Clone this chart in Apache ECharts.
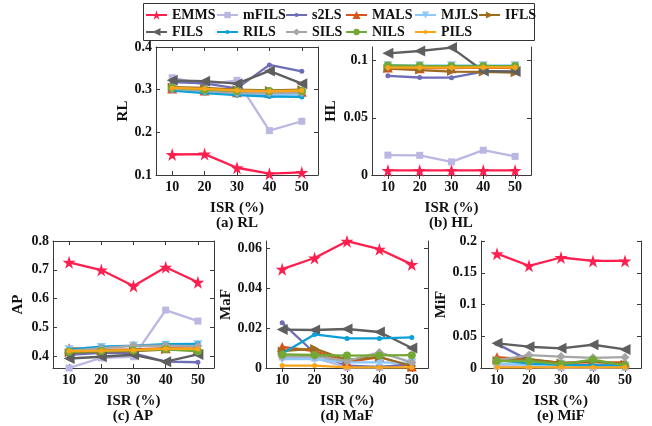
<!DOCTYPE html>
<html><head><meta charset="utf-8">
<script src="https://cdn.jsdelivr.net/npm/echarts@6/dist/echarts.min.js"></script>
<style>html,body{margin:0;padding:0;background:#fff}#c{width:652px;height:426px}</style>
</head><body><div id="c"></div>
<script>
// ---------- data ----------
const isr = ['10', '20', '30', '40', '50'];
const methods = ['EMMS','mFILS','s2LS','MALS','MJLS','IFLS','FILS','RILS','SILS','NILS','PILS'];
// rows follow the order of `methods`
const rlValues = [
  [0.148,0.149,0.117,0.103,0.106],
  [0.328,0.312,0.322,0.204,0.226],
  [0.318,0.315,0.303,0.358,0.343],
  [0.303,0.298,0.294,0.292,0.295],
  [0.300,0.294,0.290,0.288,0.289],
  [0.306,0.304,0.300,0.298,0.300],
  [0.322,0.320,0.314,0.344,0.314],
  [0.298,0.292,0.287,0.284,0.283],
  [0.302,0.297,0.292,0.292,0.293],
  [0.305,0.300,0.297,0.297,0.297],
  [0.304,0.302,0.298,0.296,0.298]
];
const hlValues = [
  [0.0040,0.0040,0.0040,0.0040,0.0040],
  [0.0174,0.0172,0.0115,0.0217,0.0163],
  [0.0868,0.0853,0.0852,0.0905,0.0905],
  [0.0940,0.0935,0.0935,0.0940,0.0935],
  [0.0955,0.0955,0.0955,0.0955,0.0955],
  [0.0932,0.0918,0.0905,0.0902,0.0895],
  [0.1065,0.1085,0.1115,0.0910,0.0905],
  [0.0957,0.0955,0.0955,0.0955,0.0955],
  [0.0950,0.0950,0.0950,0.0950,0.0950],
  [0.0958,0.0955,0.0953,0.0953,0.0953],
  [0.0940,0.0940,0.0940,0.0942,0.0942]
];
const apValues = [
  [0.726,0.699,0.644,0.709,0.657],
  [0.359,0.394,0.398,0.560,0.522],
  [0.405,0.412,0.410,0.381,0.379],
  [0.428,0.422,0.424,0.428,0.426],
  [0.422,0.430,0.435,0.438,0.440],
  [0.412,0.416,0.418,0.423,0.422],
  [0.392,0.398,0.405,0.381,0.406],
  [0.424,0.433,0.437,0.442,0.443],
  [0.418,0.428,0.437,0.437,0.435],
  [0.415,0.418,0.420,0.424,0.417],
  [0.418,0.419,0.421,0.426,0.425]
];
const mafValues = [
  [0.0494,0.0550,0.0634,0.0594,0.0518],
  [0.0055,0.0050,0.0003,0.0003,0.0020],
  [0.0226,0.0075,0.0012,0.0005,0.0018],
  [0.0105,0.0085,0.0030,0.0055,0.0008],
  [0.0045,0.0045,0.0028,0.0028,0.0025],
  [0.0085,0.0097,0.0040,0.0055,0.0010],
  [0.0192,0.0190,0.0195,0.0180,0.0100],
  [0.0072,0.0168,0.0148,0.0148,0.0153],
  [0.0058,0.0060,0.0035,0.0078,0.0028],
  [0.0068,0.0065,0.0062,0.0063,0.0064],
  [0.0012,0.0012,0.0003,0.0003,0.0003]
];
const mifValues = [
  [0.180,0.161,0.174,0.1686,0.1686],
  [0.003,0.002,0.0005,0.0005,0.001],
  [0.038,0.012,0.005,0.004,0.004],
  [0.017,0.013,0.008,0.009,0.009],
  [0.007,0.005,0.006,0.003,0.003],
  [0.012,0.014,0.008,0.010,0.006],
  [0.0388,0.0335,0.031,0.0366,0.0293],
  [0.013,0.007,0.005,0.004,0.004],
  [0.012,0.0204,0.018,0.016,0.017],
  [0.011,0.011,0.006,0.013,0.004],
  [0.001,0.001,0.001,0.001,0.001]
];
const rlTicks = [0.1, 0.2, 0.3, 0.4];
const hlTicks = [0, 0.05, 0.1];
const apTicks = [0.4, 0.5, 0.6, 0.7, 0.8];
const mafTicks = [0, 0.02, 0.04, 0.06];
const mifTicks = [0, 0.05, 0.1, 0.15, 0.2];
const panelNames = ['RL', 'HL', 'AP', 'MaF', 'MiF'];
const panelTitles = ['(a) RL', '(b) HL', '(c) AP', '(d) MaF', '(e) MiF'];

// ---------- styles ----------
const FONT = 'Liberation Serif, Times New Roman, serif';
const TXT = '#111';
const AX = '#3a3a3a';
const colors = ['#FF1F4E','#BAB7E3','#6E6DB8','#D9541A','#8CC9FA','#9E6B1F','#5F5F5F','#0BA0D8','#A6A6A6','#74A835','#F9A51A'];
const STAR = 'path://M50,0 L61,35 L98,35 L68,57 L79,91 L50,70 L21,91 L32,57 L2,35 L39,35 Z';
const TRI_DOWN = 'path://M0,0 L10,0 L5,9 Z';
const TRI_RIGHT = 'path://M0,0 L9,5 L0,10 Z';
const TRI_LEFT = 'path://M9,0 L0,5 L9,10 Z';
const symbols = [STAR,'rect','circle','triangle',TRI_DOWN,TRI_RIGHT,TRI_LEFT,'circle','diamond','circle','circle'];
const symbolSizes = [13,7,5,10,9,9,11,5,9,8,5];
const legendIconSizes = [12,8,5,10,9,9,10,5,9,8,5];

const grids = [
  {left:156, top:47, width:162, height:128},
  {left:372, top:47, width:159, height:128},
  {left:53, top:241, width:161, height:127},
  {left:266, top:241, width:162, height:127},
  {left:481, top:241, width:160, height:127}
];
const yRanges = [[0.1,0.4],[0,0.112],[0.359,0.8],[0,0.0635],[0,0.2]];
const yTickSets = [rlTicks, hlTicks, apTicks, mafTicks, mifTicks];
const yNameGaps = [25, 33, 27, 31, 31];
const allValues = [rlValues, hlValues, apValues, mafValues, mifValues];

const xAxes = [], yAxes = [], series = [];
const lineAx = {show:true, lineStyle:{color:AX, width:1}};
grids.forEach((g, p) => {
  xAxes.push({
    type:'category', gridIndex:p, data:isr, boundaryGap:true,
    axisLine:lineAx,
    axisTick:{show:true, inside:true, alignWithLabel:true, length:4, lineStyle:{color:AX}},
    axisLabel:{fontFamily:FONT, fontWeight:'bold', fontSize:14, color:TXT, margin:5},
    splitLine:{show:false},
    name:'ISR (%)', nameLocation:'middle', nameGap:26,
    nameTextStyle:{fontFamily:FONT, fontWeight:'bold', fontSize:15, color:TXT}
  });
  yAxes.push({
    type:'value', gridIndex:p, min:yRanges[p][0], max:yRanges[p][1],
    axisLine:lineAx,
    axisTick:{show:true, inside:true, length:4, lineStyle:{color:AX}, customValues:yTickSets[p]},
    axisLabel:{fontFamily:FONT, fontWeight:'bold', fontSize:14, color:TXT, margin:4, customValues:yTickSets[p],
      formatter:(v)=>String(+v.toFixed(4))},
    splitLine:{show:false},
    name:panelNames[p], nameLocation:'middle', nameRotate:90, nameGap:yNameGaps[p],
    nameTextStyle:{fontFamily:FONT, fontWeight:'bold', fontSize:15, color:TXT}
  });
});
// mirror (top / right) axes for the box
grids.forEach((g, p) => {
  xAxes.push({
    type:'category', gridIndex:p, data:isr, boundaryGap:true, position:'top',
    axisLine:lineAx,
    axisTick:{show:true, inside:true, alignWithLabel:true, length:4, lineStyle:{color:AX}},
    axisLabel:{show:false}, splitLine:{show:false}
  });
  yAxes.push({
    type:'value', gridIndex:p, position:'right', min:yRanges[p][0], max:yRanges[p][1],
    axisLine:lineAx,
    axisTick:{show:true, inside:true, length:4, lineStyle:{color:AX}, customValues:yTickSets[p]},
    axisLabel:{show:false}, splitLine:{show:false}
  });
});

allValues.forEach((vals, p) => {
  methods.forEach((m, i) => {
    series.push({
      type:'line', name:m, xAxisIndex:p, yAxisIndex:p, data:vals[i],
      symbol:symbols[i], symbolSize:symbolSizes[i], showAllSymbol:true,
      lineStyle:{color:colors[i], width:2.3},
      itemStyle:{color:colors[i], borderWidth:0},
      emphasis:{disabled:true}, animation:false, z:2 + i*0.01, clip:false
    });
  });
});

// legend: one component per item to keep columns aligned
const legendCols = [147, 218, 287, 347, 416, 480];
const legendRows = [15, 32];
const legends = methods.map((m, i) => ({
  data:[m],
  left:legendCols[i % 6] - 2, top:legendRows[Math.floor(i / 6)] - 8,
  padding:0, itemWidth:21, itemHeight:legendIconSizes[i], selectedMode:false,
  textStyle:{fontFamily:FONT, fontWeight:'bold', fontSize:14, color:TXT, lineHeight:16}
}));

const titleX = [237, 451, 133, 347, 561];
const titleY = [223, 223, 416, 416, 416];
const graphics = [{
  type:'rect', shape:{x:143.5, y:3.5, width:391, height:37},
  style:{fill:'none', stroke:'#333', lineWidth:1}, silent:true
}].concat(panelTitles.map((t, p) => ({
  type:'text', x:titleX[p], y:titleY[p], silent:true,
  style:{text:t, font:'bold 15px ' + FONT, fill:TXT, textAlign:'center', textVerticalAlign:'middle'}
})));

const chart = echarts.init(document.getElementById('c'), null, {renderer:'canvas'});
chart.setOption({
  backgroundColor:'#fff', animation:false,
  grid:grids, xAxis:xAxes, yAxis:yAxes, series:series,
  legend:legends, graphic:graphics
});
</script></body></html>
